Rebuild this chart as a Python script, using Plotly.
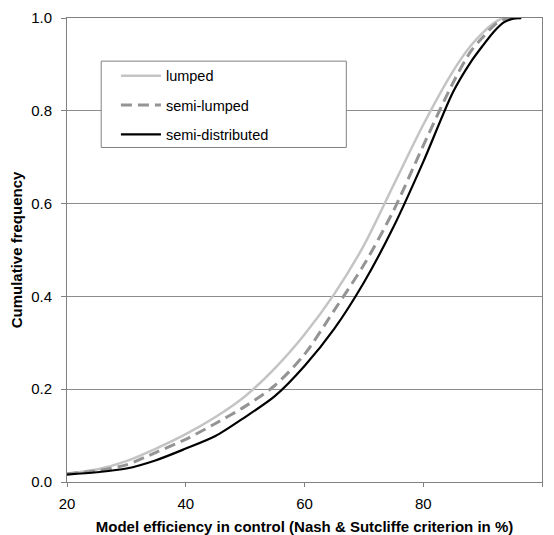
import plotly.graph_objects as go

x_lumped = [20, 25, 30, 35, 40, 45, 50, 55, 60, 65, 70, 75, 80, 85, 88, 90, 92, 93.5, 96.5]
y_lumped = [0.018, 0.027, 0.045, 0.072, 0.103, 0.14, 0.185, 0.245, 0.318, 0.405, 0.51, 0.64, 0.77, 0.885, 0.94, 0.968, 0.99, 1.0, 1.0]

x_semi_lumped = [20, 25, 30, 35, 40, 45, 50, 55, 60, 65, 70, 75, 80, 85, 88, 90, 92, 93.5, 95, 96.5]
y_semi_lumped = [0.018, 0.024, 0.037, 0.064, 0.092, 0.126, 0.163, 0.208, 0.275, 0.37, 0.468, 0.585, 0.725, 0.86, 0.928, 0.958, 0.985, 0.996, 1.0, 1.0]

x_semi_dist = [20, 25, 30, 35, 40, 45, 50, 55, 60, 65, 70, 75, 80, 85, 88, 90, 92, 93.5, 95, 96.5]
y_semi_dist = [0.016, 0.021, 0.029, 0.047, 0.072, 0.099, 0.14, 0.185, 0.25, 0.33, 0.43, 0.55, 0.69, 0.84, 0.905, 0.94, 0.972, 0.99, 0.998, 1.0]

x_ticks = [20, 40, 60, 80, 100]
y_ticks = [0.0, 0.2, 0.4, 0.6, 0.8, 1.0]

font = "Liberation Sans, Arial, sans-serif"

fig = go.Figure()
fig.add_trace(go.Scatter(x=x_lumped, y=y_lumped, mode="lines", name="lumped",
                         line=dict(color="#c4c4c4", width=2.5, shape="spline", smoothing=0.8),
                         legendgroup="a"))
fig.add_trace(go.Scatter(x=x_semi_lumped, y=y_semi_lumped, mode="lines", name="semi-lumped",
                         line=dict(color="#949494", width=3, dash="11px,6px", shape="spline", smoothing=0.8),
                         legendgroup="b"))
fig.add_trace(go.Scatter(x=x_semi_dist, y=y_semi_dist, mode="lines", name="semi-distributed",
                         line=dict(color="#000000", width=2.2, shape="spline", smoothing=0.8),
                         legendgroup="c"))

# legend frame
fig.add_shape(type="rect", xref="paper", yref="paper", x0=0.072, x1=0.588, y0=0.721, y1=0.907,
              line=dict(color="#808080", width=1), fillcolor="white", layer="above")

fig.update_layout(
    width=546, height=527,
    margin=dict(l=59, r=12, t=10, b=53),
    paper_bgcolor="white", plot_bgcolor="white",
    font=dict(family=font, size=15, color="black"),
    showlegend=True,
    legend=dict(x=0.103, y=0.910, xanchor="left", yanchor="top",
                borderwidth=0, bgcolor="rgba(0,0,0,0)",
                font=dict(size=14.5), tracegroupgap=7.5, traceorder="grouped",
                itemwidth=40),
    xaxis=dict(range=[20, 100], tickvals=x_ticks, ticktext=[str(v) for v in x_ticks],
               showgrid=False, zeroline=False, showline=True, linecolor="#808080",
               mirror=True, ticks="outside", ticklen=4, tickcolor="#808080",
               ticklabelstandoff=4,
               title=dict(text="<b>Model efficiency in control (Nash &amp; Sutcliffe criterion in %)</b>",
                          font=dict(size=15)),
               automargin=False),
    yaxis=dict(range=[0, 1], tickvals=y_ticks, ticktext=[f"{v:.1f}" for v in y_ticks],
               showgrid=True, gridcolor="#8c8c8c", gridwidth=1, zeroline=False,
               showline=True, linecolor="#808080", mirror=True,
               ticks="outside", ticklen=5, tickcolor="#808080",
               ticklabelstandoff=6,
               title=dict(text="<b>Cumulative frequency</b>", font=dict(size=15)),
               automargin=False),
)

fig.write_html("out.html")
